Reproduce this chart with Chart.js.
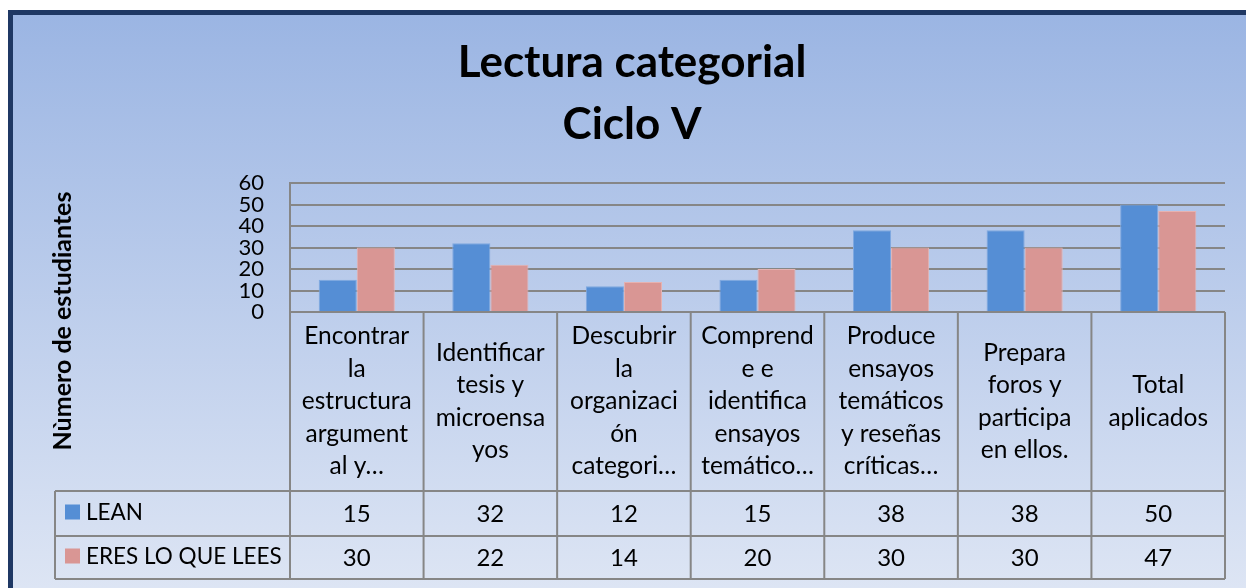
<!DOCTYPE html>
<html>
<head>
<meta charset="utf-8">
<script src="https://cdn.jsdelivr.net/npm/chart.js@4.4.1/dist/chart.umd.min.js"></script>
<style>
  html, body { margin: 0; padding: 0; background: #fff; }
  #contenedor { width: 1246px; height: 588px; }
</style>
</head>
<body>
<div id="contenedor"><canvas id="grafico" width="1246" height="588"></canvas></div>
<script>
// Datos del gráfico
const categorias = [
  ['Encontrar', 'la', 'estructura', 'argument', 'al y…'],
  ['Identificar', 'tesis y', 'microensa', 'yos'],
  ['Descubrir', 'la', 'organizaci', 'ón', 'categori…'],
  ['Comprend', 'e e', 'identifica', 'ensayos', 'temático…'],
  ['Produce', 'ensayos', 'temáticos', 'y reseñas', 'críticas…'],
  ['Prepara', 'foros y', 'participa', 'en ellos.'],
  ['Total', 'aplicados'],
];
const serieLean = [15, 32, 12, 15, 38, 38, 50];
const serieEres = [30, 22, 14, 20, 30, 30, 47];
const nombresSeries = ['LEAN', 'ERES LO QUE LEES'];
const ticksY = [0, 10, 20, 30, 40, 50, 60];
const tituloGrafico = ['Lectura categorial', 'Ciclo V'];
const tituloEjeY = 'Nùmero de estudiantes';

const FUENTE = 'Lato, "Open Sans", sans-serif';
const GRIS = '#868686';

// Fondo con degradado y marco oscuro
const fondo = {
  id: 'fondo',
  beforeDraw(chart) {
    const c = chart.ctx;
    const w = chart.width, h = chart.height;
    c.save();
    c.fillStyle = '#fff';
    c.fillRect(0, 0, w, h);
    c.fillStyle = '#1F3864';
    c.fillRect(8, 10, w - 8, h - 10);
    const g = c.createLinearGradient(0, 15, 0, h);
    g.addColorStop(0, '#9BB5E3');
    g.addColorStop(1, '#DDE5F4');
    c.fillStyle = g;
    c.fillRect(13, 15, w - 13, h - 15);
    c.restore();
  },
};

// Tabla de datos debajo del área del gráfico + título del eje Y
const tablaDatos = {
  id: 'tablaDatos',
  afterDraw(chart) {
    const c = chart.ctx;
    const x = chart.scales.x;
    const area = chart.chartArea;
    const n = categorias.length;
    const anchoCat = (area.right - area.left) / n;
    const filaCab = area.bottom, fila1 = 491, fila2 = 536, finTabla = 579;
    const izqLeyenda = 55;

    c.save();
    c.strokeStyle = GRIS;
    c.lineWidth = 2;
    c.beginPath();
    // horizontales
    [fila1, fila2, finTabla].forEach(y => { c.moveTo(izqLeyenda, y); c.lineTo(area.right, y); });
    // verticales
    for (let i = 0; i <= n; i++) {
      const xx = (i < n ? x.getPixelForValue(i) - anchoCat / 2 : x.getPixelForValue(n - 1) + anchoCat / 2);
      c.moveTo(xx, filaCab); c.lineTo(xx, finTabla);
    }
    c.moveTo(izqLeyenda, fila1); c.lineTo(izqLeyenda, finTabla);
    c.stroke();

    // encabezados
    c.fillStyle = '#000';
    c.textAlign = 'center';
    c.textBaseline = 'middle';
    c.font = '24.5px ' + FUENTE;
    const altoLinea = 32.5;
    const centroCab = (filaCab + fila1) / 2;
    categorias.forEach((lineas, i) => {
      const cx = x.getPixelForValue(i);
      const y0 = centroCab - (lineas.length - 1) * altoLinea / 2;
      lineas.forEach((t, k) => c.fillText(t, cx, y0 + k * altoLinea));
    });

    // valores y leyenda
    const filas = [[fila1, fila2], [fila2, finTabla]];
    chart.data.datasets.forEach((ds, d) => {
      const cy = (filas[d][0] + filas[d][1]) / 2;
      c.textAlign = 'center';
      c.font = '24px ' + FUENTE;
      c.fillStyle = '#000';
      ds.data.forEach((v, i) => c.fillText(String(v), x.getPixelForValue(i), cy + 1));
      c.fillStyle = ds.backgroundColor;
      c.fillRect(65, cy - 9, 15, 15);
      c.fillStyle = '#000';
      c.textAlign = 'left';
      c.font = '22.5px ' + FUENTE;
      c.fillText(ds.label, 86, cy - 1);
    });

    // título del eje Y
    c.translate(63, 321);
    c.rotate(-Math.PI / 2);
    c.textAlign = 'center';
    c.font = 'bold 25px ' + FUENTE;
    c.fillText(tituloEjeY, 0, 0);
    c.restore();
  },
};

const ctx = document.getElementById('grafico').getContext('2d');

const grafico = new Chart(ctx, {
  type: 'bar',
  data: {
    labels: categorias,
    datasets: [
      {
        label: nombresSeries[0],
        data: serieLean,
        backgroundColor: '#558ED5',
        borderColor: '#7FA8E0',
        borderWidth: 1,
      },
      {
        label: nombresSeries[1],
        data: serieEres,
        backgroundColor: '#D99694',
        borderColor: '#E6B2B0',
        borderWidth: 1,
      },
    ],
  },
  options: {
    responsive: false,
    animation: false,
    layout: { padding: { left: 39, right: 21, top: 0, bottom: 276 } },
    datasets: { bar: { categoryPercentage: 0.57, barPercentage: 1 } },
    plugins: {
      legend: { display: false },
      tooltip: { enabled: false },
      title: {
        display: true,
        text: tituloGrafico,
        color: '#000',
        font: { family: FUENTE, size: 44, weight: 'bold', lineHeight: 62 / 44 },
        padding: { top: 32, bottom: 27 },
      },
    },
    scales: {
      x: {
        display: false,
      },
      y: {
        min: 0,
        max: ticksY[ticksY.length - 1],
        afterBuildTicks(scale) { scale.ticks = ticksY.map(v => ({ value: v })); },
        afterFit(scale) { scale.width = 290 - 39; },
        ticks: {
          color: '#000',
          padding: 26,
          autoSkip: false,
          font: { family: FUENTE, size: 22 },
        },
        grid: { color: GRIS, lineWidth: 2, drawTicks: false },
        border: { color: GRIS, width: 2 },
      },
    },
  },
  plugins: [fondo, tablaDatos],
});
</script>
</body>
</html>
